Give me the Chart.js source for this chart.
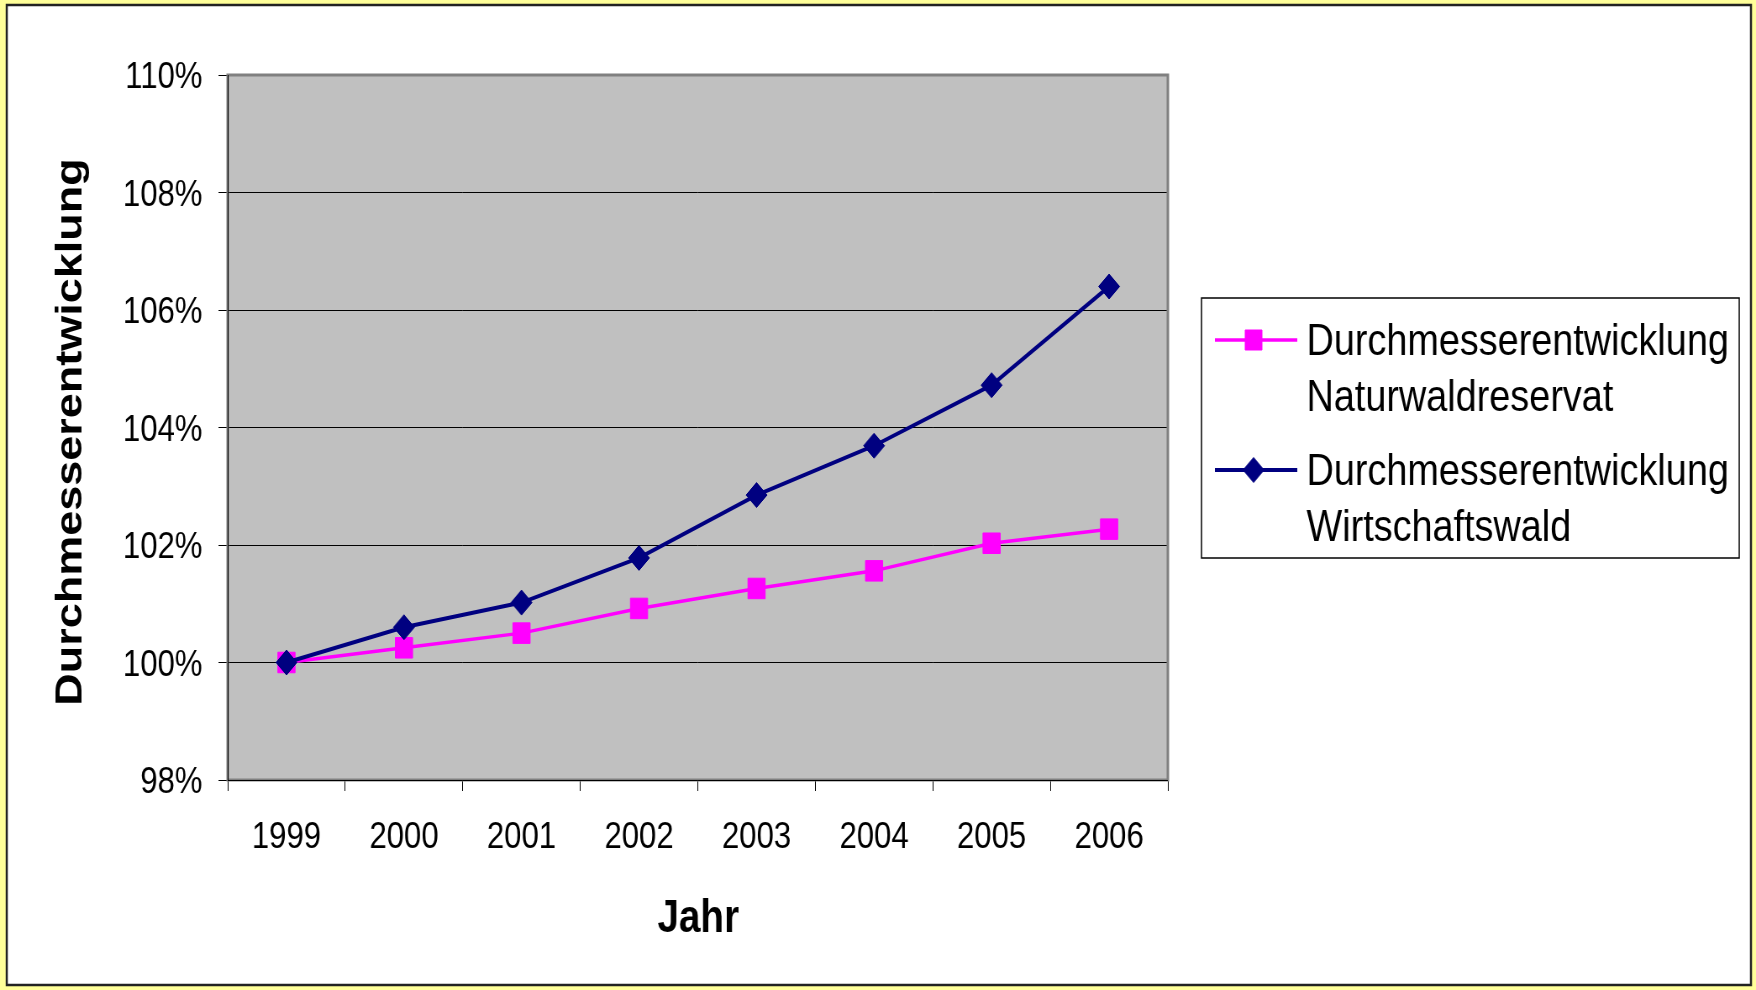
<!DOCTYPE html>
<html><head><meta charset="utf-8">
<script src="https://cdn.jsdelivr.net/npm/chart.js@4.4.1/dist/chart.umd.min.js"></script>
<style>
html,body{margin:0;padding:0;background:#FFFF99;overflow:hidden;width:1756px;height:990px;}
#wrap{position:absolute;left:0;top:0;width:2090px;height:990px;transform:scaleX(0.84019);transform-origin:0 0;}
canvas{display:block;}
</style></head><body>
<div id="wrap"><canvas id="c" width="2090" height="990"></canvas></div>
<script>
// ---- data ----
const years = ['1999', '2000', '2001', '2002', '2003', '2004', '2005', '2006'];
const naturwald = [100, 100.25, 100.5, 100.92, 101.26, 101.56, 102.03, 102.27];
const wirtschaftswald = [100, 100.6, 101.02, 101.78, 102.85, 103.69, 104.72, 106.4];
const seriesNames = [['Durchmesserentwicklung', 'Naturwaldreservat'], ['Durchmesserentwicklung', 'Wirtschaftswald']];
const yTickValues = [98, 100, 102, 104, 106, 108, 110];
const xTitle = 'Jahr';
const yTitle = 'Durchmesserentwicklung';

// ---- styles ----
const PINK = '#FF00FF', NAVY = '#000080';
const FONT = "'Liberation Sans', Arial, sans-serif";
const W = 2090, H = 990;

function drawMarker(ctx, style, x, y, color) {
  ctx.fillStyle = color; ctx.strokeStyle = color; ctx.lineWidth = 1;
  ctx.beginPath();
  if (style === 'rect') {
    ctx.rect(x - 10, y - 10, 20, 20);
  } else {
    ctx.moveTo(x, y - 12.5); ctx.lineTo(x + 12.5, y); ctx.lineTo(x, y + 12.5); ctx.lineTo(x - 12.5, y); ctx.closePath();
  }
  ctx.fill(); ctx.stroke();
}

const framePlugin = {
  id: 'frame',
  beforeDraw(chart) {
    const ctx = chart.ctx, a = chart.chartArea;
    ctx.save();
    ctx.fillStyle = '#FFFF99'; ctx.fillRect(0, 0, W, H);
    ctx.fillStyle = '#FFFFFF'; ctx.fillRect(8, 5, 2076, 980);
    ctx.strokeStyle = '#222'; ctx.lineWidth = 2.5; ctx.strokeRect(8, 5, 2076, 980);
    ctx.fillStyle = '#C0C0C0'; ctx.fillRect(a.left, a.top, a.right - a.left, a.bottom - a.top);
    ctx.restore();
  },
  beforeDatasetsDraw(chart) {
    const ctx = chart.ctx, a = chart.chartArea;
    ctx.save();
    ctx.strokeStyle = '#808080'; ctx.lineWidth = 3;
    ctx.strokeRect(a.left, a.top, a.right - a.left, a.bottom - a.top);
    ctx.strokeStyle = '#000'; ctx.lineWidth = 1;
    ctx.beginPath();
    ctx.moveTo(a.left + 0.5, a.top); ctx.lineTo(a.left + 0.5, a.bottom);
    ctx.moveTo(a.left, a.bottom + 0.5); ctx.lineTo(a.right, a.bottom + 0.5);
    ctx.stroke();
    ctx.restore();
  },
  afterDraw(chart) {
    const ctx = chart.ctx;
    ctx.save();
    ctx.fillStyle = '#000';
    // axis titles
    ctx.font = 'bold 46px ' + FONT;
    ctx.textAlign = 'center'; ctx.textBaseline = 'alphabetic';
    ctx.fillText(xTitle, 831, 932);
    ctx.save();
    ctx.translate(85, 432); ctx.rotate(-Math.PI / 2);
    ctx.font = 'bold 45px ' + FONT;
    ctx.textBaseline = 'middle';
    ctx.fillText(yTitle, 0, 0);
    ctx.restore();
    // legend
    ctx.strokeStyle = '#000'; ctx.lineWidth = 1.5;
    ctx.strokeRect(1430, 298, 640, 260);
    const entries = [
      {names: seriesNames[0], color: PINK, style: 'rect', y: 340, w: 3.5},
      {names: seriesNames[1], color: NAVY, style: 'diamond', y: 470, w: 4}
    ];
    ctx.font = '45px ' + FONT;
    ctx.textAlign = 'left'; ctx.textBaseline = 'alphabetic';
    entries.forEach(e => {
      ctx.strokeStyle = e.color; ctx.lineWidth = e.w;
      ctx.beginPath(); ctx.moveTo(1446, e.y); ctx.lineTo(1544, e.y); ctx.stroke();
      drawMarker(ctx, e.style, 1492, e.y, e.color);
      ctx.fillStyle = '#000';
      e.names.forEach((t, i) => ctx.fillText(t, 1555, e.y + 15 + i * 56));
    });
    ctx.restore();
  }
};

new Chart(document.getElementById('c'), {
  type: 'line',
  data: {
    labels: years,
    datasets: [
      {
        label: seriesNames[0].join(' '), data: naturwald, order: 1,
        borderColor: PINK, backgroundColor: PINK, borderWidth: 3.5,
        pointStyle: 'rect', pointRadius: 14.5, pointBorderWidth: 1,
        pointBackgroundColor: PINK, pointBorderColor: PINK, tension: 0, fill: false
      },
      {
        label: seriesNames[1].join(' '), data: wirtschaftswald, order: 0,
        borderColor: NAVY, backgroundColor: NAVY, borderWidth: 4,
        pointStyle: 'rectRot', pointRadius: 12.5, pointBorderWidth: 1,
        pointBackgroundColor: NAVY, pointBorderColor: NAVY, tension: 0, fill: false
      }
    ]
  },
  options: {
    responsive: false, animation: false, devicePixelRatio: 1,
    layout: {padding: {top: 75, right: 700, left: 0, bottom: 0}},
    plugins: {legend: {display: false}, tooltip: {enabled: false}, title: {display: false}},
    scales: {
      x: {
        type: 'category', offset: true,
        grid: {offset: true, drawOnChartArea: false, drawTicks: true, tickLength: 11, tickColor: '#000', lineWidth: 1},
        border: {display: false},
        ticks: {color: '#000', font: {family: FONT, size: 37}, padding: 25, maxRotation: 0, autoSkip: false},
        afterFit(s) { s.height = 210; }
      },
      y: {
        min: 98, max: 110,
        grid: {color: '#000', lineWidth: 1, drawTicks: true, tickLength: 11, tickColor: '#000'},
        border: {display: false},
        afterBuildTicks(s) { s.ticks = yTickValues.map(v => ({value: v})); },
        ticks: {color: '#000', font: {family: FONT, size: 37}, padding: 19, labelOffset: 3, callback: v => v + '%'},
        afterFit(s) { s.width = 271; }
      }
    }
  },
  plugins: [framePlugin]
});
</script>
</body></html>
